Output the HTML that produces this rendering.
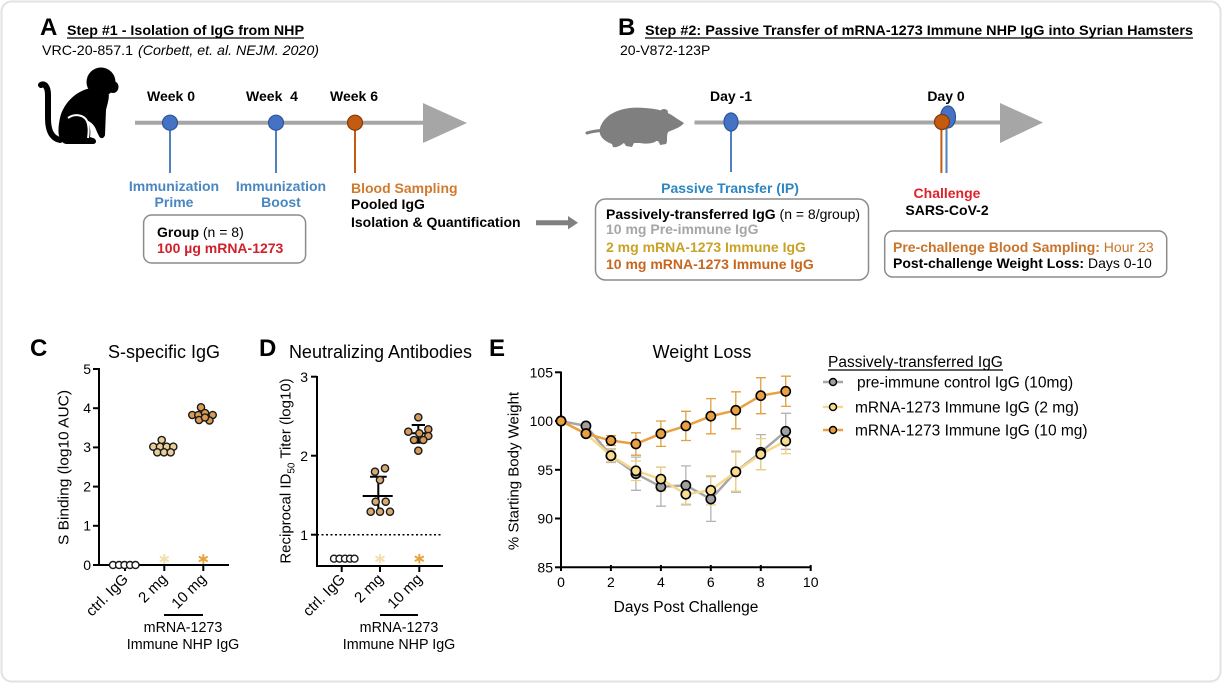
<!DOCTYPE html>
<html><head><meta charset="utf-8">
<style>
html,body{margin:0;padding:0;background:#fff;}
svg{display:block;}
text{font-family:"Liberation Sans",Arial,sans-serif;}
</style></head>
<body>
<svg width="1223" height="684" viewBox="0 0 1223 684" xmlns="http://www.w3.org/2000/svg">
<rect x="0" y="0" width="1223" height="684" fill="#fff"/>
<rect x="1.5" y="1.5" width="1219" height="680" rx="10" fill="none" stroke="#e2e2e2" stroke-width="2"/>

<!-- ============ PANEL A ============ -->
<text x="40" y="35" font-size="24" font-weight="bold">A</text>
<text x="67" y="35" font-size="14" font-weight="bold" textLength="237" lengthAdjust="spacingAndGlyphs">Step #1 - Isolation of IgG from NHP</text>
<line x1="67" y1="38" x2="304" y2="38" stroke="#000" stroke-width="1.2"/>
<text x="42" y="55" font-size="14" textLength="91" lengthAdjust="spacingAndGlyphs">VRC-20-857.1</text>
<text x="138" y="55" font-size="14" font-style="italic" textLength="181" lengthAdjust="spacingAndGlyphs">(Corbett, et. al. NEJM. 2020)</text>

<!-- monkey -->
<g fill="#000">
<circle cx="101" cy="82" r="14.5"/>
<ellipse cx="113" cy="87" rx="5.5" ry="6"/>
<path d="M92 88 C76 90 63 104 60 118 C57 132 58 142 66 144 L93 144 C97 144 97 139 93 138 L90 137 C91 131 90 124 86 120 C92 122 95 126 97 132 L99 136 C100 139 104 139 105 135 L106 110 C108 102 110 96 108 92 Z"/>
</g>
<path d="M60 140 C51 138 48 130 48 118 L48 95 C48 86 44 83 41 85" fill="none" stroke="#000" stroke-width="6" stroke-linecap="round"/>
<path d="M68 118 C75 113 84 115 87 121 C89 126 89 132 88 138" fill="none" stroke="#fff" stroke-width="2"/>

<!-- timeline A -->
<line x1="135" y1="122.7" x2="426" y2="122.7" stroke="#a6a6a6" stroke-width="4"/>
<polygon points="423,103 467,123 423,143" fill="#a6a6a6"/>
<line x1="170" y1="128" x2="170" y2="173" stroke="#4f81bd" stroke-width="2"/>
<line x1="276" y1="128" x2="276" y2="173" stroke="#4f81bd" stroke-width="2"/>
<line x1="355" y1="128" x2="355" y2="173" stroke="#c55a11" stroke-width="2"/>
<circle cx="170" cy="122.7" r="7.5" fill="#4472c4" stroke="#2f5597" stroke-width="1.2"/>
<circle cx="276" cy="122.7" r="7.5" fill="#4472c4" stroke="#2f5597" stroke-width="1.2"/>
<circle cx="355" cy="122.7" r="7.5" fill="#c55a11" stroke="#7f3a0c" stroke-width="1.2"/>
<g font-size="14" font-weight="bold" text-anchor="middle">
<text x="171" y="101">Week 0</text>
<text x="272" y="101" xml:space="preserve">Week  4</text>
<text x="354" y="101">Week 6</text>
</g>
<g font-size="14" font-weight="bold" text-anchor="middle" fill="#4a86c0">
<text x="174" y="191">Immunization</text>
<text x="174" y="207">Prime</text>
<text x="281" y="191">Immunization</text>
<text x="281" y="207">Boost</text>
</g>
<g font-size="14" font-weight="bold">
<text x="351" y="193" fill="#d07a2e">Blood Sampling</text>
<text x="351" y="209">Pooled IgG</text>
<text x="351" y="227">Isolation &amp; Quantification</text>
</g>
<rect x="143.6" y="215" width="162" height="48" rx="8" fill="none" stroke="#8c8c8c" stroke-width="1.5"/>
<text x="157" y="237" font-size="14"><tspan font-weight="bold">Group</tspan> (n = 8)</text>
<text x="157" y="253" font-size="14" font-weight="bold" fill="#d0202a">100 µg mRNA-1273</text>

<!-- connecting arrow -->
<line x1="536" y1="222.7" x2="570" y2="222.7" stroke="#808080" stroke-width="5"/>
<polygon points="568,216 578,222.7 568,229.4" fill="#808080"/>

<!-- ============ PANEL B ============ -->
<text x="618" y="35" font-size="24" font-weight="bold">B</text>
<text x="645" y="35" font-size="14" font-weight="bold" textLength="548" lengthAdjust="spacingAndGlyphs">Step #2: Passive Transfer of mRNA-1273 Immune NHP IgG into Syrian Hamsters</text>
<line x1="645" y1="38" x2="1193" y2="38" stroke="#000" stroke-width="1.2"/>
<text x="620" y="55" font-size="14">20-V872-123P</text>

<!-- hamster -->
<g fill="#7f7f7f">
<path d="M600 128 C605 112 625 106 645 108 C660 109 668 112 676 118 L684 123 C680 128 672 130 668 132 C666 137 668 141 666 144 L660 145 C659 141 657 140 655 142 C650 144 645 144 640 143 L634 143 L632 147 L626 146 L624 143 C621 145 617 148 613 147 L612 144 C604 141 598 136 600 128 Z"/>
<ellipse cx="664" cy="112" rx="4" ry="3"/>
</g>
<path d="M587 133 C594 131 600 130 606 131" fill="none" stroke="#7f7f7f" stroke-width="3" stroke-linecap="round"/>

<!-- timeline B -->
<line x1="694.5" y1="122.5" x2="1003" y2="122.5" stroke="#a6a6a6" stroke-width="4"/>
<polygon points="1000,103 1043,122.5 1000,143" fill="#a6a6a6"/>
<line x1="731" y1="128" x2="731" y2="172" stroke="#4f81bd" stroke-width="2"/>
<ellipse cx="731" cy="122" rx="7" ry="9" fill="#4472c4" stroke="#2f5597" stroke-width="1.2"/>
<line x1="946.5" y1="126" x2="946.5" y2="173" stroke="#4f81bd" stroke-width="2"/>
<line x1="941.4" y1="126" x2="941.4" y2="173" stroke="#c55a11" stroke-width="2"/>
<ellipse cx="948" cy="117" rx="7.5" ry="11" fill="#4472c4" stroke="#2f5597" stroke-width="1.2"/>
<circle cx="942" cy="122" r="7.5" fill="#c55a11" stroke="#7f3a0c" stroke-width="1.2"/>
<g font-size="14" font-weight="bold" text-anchor="middle">
<text x="731" y="101">Day -1</text>
<text x="946" y="101">Day 0</text>
<text x="730" y="193" fill="#2e86c1">Passive Transfer (IP)</text>
<text x="947" y="198" fill="#e0202a">Challenge</text>
<text x="947" y="215">SARS-CoV-2</text>
</g>
<rect x="595.5" y="199" width="273" height="81" rx="10" fill="none" stroke="#8c8c8c" stroke-width="1.5"/>
<g font-size="14">
<text x="606" y="219"><tspan font-weight="bold">Passively-transferred IgG</tspan> (n = 8/group)</text>
<text x="606" y="234" font-weight="bold" fill="#a6a6a6">10 mg Pre-immune IgG</text>
<text x="606" y="252" font-weight="bold" fill="#c9a227">2 mg mRNA-1273 Immune IgG</text>
<text x="606" y="269" font-weight="bold" fill="#c8661e">10 mg mRNA-1273 Immune IgG</text>
</g>
<rect x="884.7" y="231" width="282" height="46" rx="8" fill="none" stroke="#8c8c8c" stroke-width="1.5"/>
<g font-size="14">
<text x="893" y="252" fill="#c8742a"><tspan font-weight="bold">Pre-challenge Blood Sampling:</tspan> Hour 23</text>
<text x="893" y="268"><tspan font-weight="bold">Post-challenge Weight Loss:</tspan> Days 0-10</text>
</g>

<!-- ============ PANEL C ============ -->
<text x="30" y="356" font-size="24" font-weight="bold">C</text>
<text x="164" y="358" font-size="18" text-anchor="middle">S-specific IgG</text>
<text transform="translate(68.5,467.5) rotate(-90)" font-size="15" text-anchor="middle" textLength="155" lengthAdjust="spacingAndGlyphs">S Binding (log10 AUC)</text>
<g stroke="#000" stroke-width="2">
<line x1="99" y1="368" x2="99" y2="566"/>
<line x1="98" y1="565" x2="229" y2="565"/>
<line x1="93" y1="369" x2="99" y2="369"/>
<line x1="93" y1="408.2" x2="99" y2="408.2"/>
<line x1="93" y1="447.4" x2="99" y2="447.4"/>
<line x1="93" y1="486.6" x2="99" y2="486.6"/>
<line x1="93" y1="525.8" x2="99" y2="525.8"/>
<line x1="93" y1="565" x2="99" y2="565"/>
<line x1="125" y1="565" x2="125" y2="571"/>
<line x1="164.3" y1="565" x2="164.3" y2="571"/>
<line x1="203.3" y1="565" x2="203.3" y2="571"/>
</g>
<g font-size="14" text-anchor="end">
<text x="91" y="374">5</text>
<text x="91" y="413">4</text>
<text x="91" y="452">3</text>
<text x="91" y="491.5">2</text>
<text x="91" y="530.5">1</text>
<text x="91" y="570">0</text>
</g>
<g font-size="15" text-anchor="end">
<text transform="translate(129,580) rotate(-45)">ctrl. IgG</text>
<text transform="translate(168,580) rotate(-45)">2 mg</text>
<text transform="translate(207,580) rotate(-45)">10 mg</text>
</g>
<line x1="164" y1="615" x2="203" y2="615" stroke="#000" stroke-width="2"/>
<g font-size="14.3" text-anchor="middle">
<text x="183" y="632">mRNA-1273</text>
<text x="183" y="649">Immune NHP IgG</text>
</g>
<!-- C data -->
<g stroke="#1a1a1a" stroke-width="1.4">
<g fill="#fff">
<circle cx="113" cy="565" r="3.5"/><circle cx="119" cy="565" r="3.5"/><circle cx="124.5" cy="565" r="3.5"/><circle cx="130" cy="565" r="3.5"/><circle cx="135.5" cy="565" r="3.5"/>
</g>
<g fill="#e8cf9a">
<circle cx="161.7" cy="440" r="3.6"/>
<circle cx="153.3" cy="446.7" r="3.6"/><circle cx="160" cy="446.7" r="3.6"/><circle cx="166.7" cy="446.7" r="3.6"/><circle cx="173.3" cy="446.7" r="3.6"/>
<circle cx="157.3" cy="452.3" r="3.6"/><circle cx="164" cy="452.3" r="3.6"/><circle cx="170.7" cy="452.3" r="3.6"/>
</g>
<g fill="#d99a55">
<circle cx="201" cy="407.3" r="3.6"/>
<circle cx="192.3" cy="415" r="3.6"/><circle cx="198.3" cy="415" r="3.6"/><circle cx="205" cy="413" r="3.6"/><circle cx="212.7" cy="415" r="3.6"/>
<circle cx="199" cy="420" r="3.6"/><circle cx="209.5" cy="420.5" r="3.6"/><circle cx="205" cy="417.5" r="3.6"/>
</g>
</g>
<g stroke-width="2" stroke-linecap="round">
<g stroke="#f3dfb0"><line x1="164.3" y1="555" x2="164.3" y2="563"/><line x1="160.5" y1="557" x2="168" y2="561"/><line x1="160.5" y1="561" x2="168" y2="557"/></g>
<g stroke="#e8a43c"><line x1="203.3" y1="555" x2="203.3" y2="563"/><line x1="199.5" y1="557" x2="207" y2="561"/><line x1="199.5" y1="561" x2="207" y2="557"/></g>
</g>

<!-- ============ PANEL D ============ -->
<text x="259" y="356" font-size="24" font-weight="bold">D</text>
<text x="380.5" y="358" font-size="18" text-anchor="middle">Neutralizing Antibodies</text>
<text transform="translate(290.5,471) rotate(-90)" font-size="15" text-anchor="middle">Reciprocal ID<tspan font-size="10" dy="4">50</tspan><tspan dy="-4"> Titer (log10)</tspan></text>
<line x1="317" y1="534.7" x2="443" y2="534.7" stroke="#000" stroke-width="1.5" stroke-dasharray="2,2.5"/>
<g stroke="#000" stroke-width="2">
<line x1="317" y1="376" x2="317" y2="567"/>
<line x1="316" y1="566" x2="443" y2="566"/>
<line x1="311" y1="376.7" x2="317" y2="376.7"/>
<line x1="311" y1="455.7" x2="317" y2="455.7"/>
<line x1="311" y1="534.7" x2="317" y2="534.7"/>
<line x1="341.7" y1="566" x2="341.7" y2="572"/>
<line x1="380" y1="566" x2="380" y2="572"/>
<line x1="419.3" y1="566" x2="419.3" y2="572"/>
</g>
<g font-size="14" text-anchor="end">
<text x="308" y="382">3</text>
<text x="308" y="461">2</text>
<text x="308" y="540">1</text>
</g>
<g font-size="15" text-anchor="end">
<text transform="translate(346,580) rotate(-45)">ctrl. IgG</text>
<text transform="translate(384,580) rotate(-45)">2 mg</text>
<text transform="translate(423,580) rotate(-45)">10 mg</text>
</g>
<line x1="380" y1="615" x2="418" y2="615" stroke="#000" stroke-width="2"/>
<g font-size="14.3" text-anchor="middle">
<text x="399" y="632">mRNA-1273</text>
<text x="399" y="649">Immune NHP IgG</text>
</g>
<!-- D error bars -->
<g stroke="#000" stroke-width="2">
<line x1="378.3" y1="476.7" x2="378.3" y2="511"/>
<line x1="370" y1="476.7" x2="386.7" y2="476.7"/>
<line x1="362.7" y1="496" x2="392.7" y2="496"/>
<line x1="418.3" y1="425" x2="418.3" y2="442.7"/>
<line x1="411.7" y1="425" x2="425" y2="425"/>
<line x1="411.7" y1="442.7" x2="425" y2="442.7"/>
<line x1="406.7" y1="433.3" x2="430" y2="433.3"/>
</g>
<g stroke="#1a1a1a" stroke-width="1.4">
<g fill="#fff">
<circle cx="334" cy="558.7" r="3.5"/><circle cx="339.5" cy="558.7" r="3.5"/><circle cx="345" cy="558.7" r="3.5"/><circle cx="350" cy="558.7" r="3.5"/><circle cx="354.5" cy="558.7" r="3.5"/>
</g>
<g fill="#d7aa72">
<circle cx="375" cy="471.7" r="3.6"/><circle cx="385" cy="468.3" r="3.6"/><circle cx="380" cy="480" r="3.6"/>
<circle cx="375.7" cy="501.7" r="3.6"/><circle cx="385.7" cy="501.7" r="3.6"/>
<circle cx="370.7" cy="511.7" r="3.6"/><circle cx="380" cy="511.7" r="3.6"/><circle cx="390" cy="511.7" r="3.6"/>
</g>
<g fill="#d59a5a">
<circle cx="418.3" cy="417.3" r="3.6"/><circle cx="408.3" cy="431.7" r="3.6"/><circle cx="419.3" cy="433.3" r="3.6"/>
<circle cx="428.3" cy="429.3" r="3.6"/><circle cx="428.3" cy="436" r="3.6"/><circle cx="414" cy="440" r="3.6"/>
<circle cx="423.3" cy="440" r="3.6"/><circle cx="418.3" cy="450.7" r="3.6"/>
</g>
</g>
<g stroke-width="2" stroke-linecap="round">
<g stroke="#f3dfb0"><line x1="380" y1="554.7" x2="380" y2="562.7"/><line x1="376.2" y1="556.7" x2="383.8" y2="560.7"/><line x1="376.2" y1="560.7" x2="383.8" y2="556.7"/></g>
<g stroke="#e8a43c"><line x1="419.3" y1="554.7" x2="419.3" y2="562.7"/><line x1="415.5" y1="556.7" x2="423.1" y2="560.7"/><line x1="415.5" y1="560.7" x2="423.1" y2="556.7"/></g>
</g>

<!-- ============ PANEL E ============ -->
<text x="489" y="356" font-size="24" font-weight="bold">E</text>
<text x="702" y="358" font-size="18" text-anchor="middle">Weight Loss</text>
<text transform="translate(518.5,471) rotate(-90)" font-size="15" text-anchor="middle">% Starting Body Weight</text>
<text x="686" y="612" font-size="15.5" text-anchor="middle">Days Post Challenge</text>
<g stroke="#000" stroke-width="2">
<line x1="561" y1="371.5" x2="561" y2="568"/>
<line x1="560" y1="567.3" x2="811" y2="567.3"/>
<line x1="555" y1="372.3" x2="561" y2="372.3"/>
<line x1="555" y1="421" x2="561" y2="421"/>
<line x1="555" y1="469.8" x2="561" y2="469.8"/>
<line x1="555" y1="518.5" x2="561" y2="518.5"/>
<line x1="555" y1="567.3" x2="561" y2="567.3"/>
<line x1="561" y1="567" x2="561" y2="571"/>
<line x1="610.9" y1="565" x2="610.9" y2="571"/>
<line x1="660.9" y1="565" x2="660.9" y2="571"/>
<line x1="710.8" y1="565" x2="710.8" y2="571"/>
<line x1="760.8" y1="565" x2="760.8" y2="571"/>
<line x1="810.7" y1="565" x2="810.7" y2="571"/>
</g>
<g font-size="14" text-anchor="end">
<text x="553" y="377.3">105</text>
<text x="553" y="426">100</text>
<text x="553" y="474.8">95</text>
<text x="553" y="523.5">90</text>
<text x="553" y="572.3">85</text>
</g>
<g font-size="14" text-anchor="middle">
<text x="561" y="587">0</text>
<text x="610.9" y="587">2</text>
<text x="660.9" y="587">4</text>
<text x="710.8" y="587">6</text>
<text x="760.8" y="587">8</text>
<text x="810.7" y="587">10</text>
</g>

<!-- error bars -->
<g stroke="#b3b3b3" stroke-width="1.3">
<path d="M610.94 448.9V462.5M606 448.9H616M606 462.5H616
M635.91 457.1V490.3M631 457.1H641M631 490.3H641
M660.88 467.2V506.2M656 467.2H666M656 506.2H666
M685.85 465.9V504.9M681 465.9H691M681 504.9H691
M710.82 476.6V521.4M706 476.6H716M706 521.4H716
M735.79 451.2V492.2M731 451.2H741M731 492.2H741
M760.76 434.6V469.8M756 434.6H766M756 469.8H766
M785.73 413.3V449.3M781 413.3H791M781 449.3H791"/>
</g>
<g stroke="#f0d080" stroke-width="1.3">
<path d="M610.94 449.8V461.6M606 449.8H616M606 461.6H616
M635.91 461V480.5M631 461H641M631 480.5H641
M660.88 467.4V490.8M656 467.4H666M656 490.8H666
M685.85 484.4V504M681 484.4H691M681 504H691
M710.82 475.7V504.9M706 475.7H716M706 504.9H716
M735.79 452.2V491.2M731 452.2H741M731 491.2H741
M760.76 438.6V469.8M756 438.6H766M756 469.8H766
M785.73 428.3V453.7M781 428.3H791M781 453.7H791"/>
</g>
<g stroke="#e0a040" stroke-width="1.3">
<path d="M610.94 435.6V445.5M606 435.6H616M606 445.5H616
M635.91 432.8V455.2M631 432.8H641M631 455.2H641
M660.88 421V446.4M656 421H666M656 446.4H666
M685.85 411.3V440.5M681 411.3H691M681 440.5H691
M710.82 398.6V433.8M706 398.6H716M706 433.8H716
M735.79 391.8V428.8M731 391.8H741M731 428.8H741
M760.76 377.7V413.7M756 377.7H766M756 413.7H766
M785.73 376.2V406.4M781 376.2H791M781 406.4H791"/>
</g>

<!-- series lines -->
<polyline fill="none" stroke="#a6a6a6" stroke-width="2.5" stroke-linejoin="round" points="561,421.05 585.97,425.9 610.94,455.7 635.91,473.7 660.88,486.7 685.85,485.4 710.82,499.05 735.79,471.75 760.76,452.25 785.73,431.3"/>
<polyline fill="none" stroke="#f5d88a" stroke-width="2.5" stroke-linejoin="round" points="561,421.05 585.97,433.7 610.94,455.7 635.91,470.8 660.88,479.1 685.85,494.2 710.82,490.3 735.79,471.75 760.76,454.2 785.73,441"/>
<polyline fill="none" stroke="#eaa040" stroke-width="2.5" stroke-linejoin="round" points="561,421.05 585.97,433.7 610.94,440.55 635.91,443.96 660.88,433.7 685.85,425.9 710.82,416.2 735.79,410.3 760.76,395.7 785.73,391.3"/>

<!-- markers -->
<g stroke="#000" stroke-width="1.6">
<g fill="#a0a0a0">
<circle cx="561" cy="421.05" r="4.6"/><circle cx="585.97" cy="425.9" r="4.6"/><circle cx="610.94" cy="455.7" r="4.6"/><circle cx="635.91" cy="473.7" r="4.6"/><circle cx="660.88" cy="486.7" r="4.6"/><circle cx="685.85" cy="485.4" r="4.6"/><circle cx="710.82" cy="499.05" r="4.6"/><circle cx="735.79" cy="471.75" r="4.6"/><circle cx="760.76" cy="452.25" r="4.6"/><circle cx="785.73" cy="431.3" r="4.6"/>
</g>
<g fill="#f7dc8f">
<circle cx="561" cy="421.05" r="4.6"/><circle cx="585.97" cy="433.7" r="4.6"/><circle cx="610.94" cy="455.7" r="4.6"/><circle cx="635.91" cy="470.8" r="4.6"/><circle cx="660.88" cy="479.1" r="4.6"/><circle cx="685.85" cy="494.2" r="4.6"/><circle cx="710.82" cy="490.3" r="4.6"/><circle cx="735.79" cy="471.75" r="4.6"/><circle cx="760.76" cy="454.2" r="4.6"/><circle cx="785.73" cy="441" r="4.6"/>
</g>
<g fill="#e9a042">
<circle cx="561" cy="421.05" r="4.6"/><circle cx="585.97" cy="433.7" r="4.6"/><circle cx="610.94" cy="440.55" r="4.6"/><circle cx="635.91" cy="443.96" r="4.6"/><circle cx="660.88" cy="433.7" r="4.6"/><circle cx="685.85" cy="425.9" r="4.6"/><circle cx="710.82" cy="416.2" r="4.6"/><circle cx="735.79" cy="410.3" r="4.6"/><circle cx="760.76" cy="395.7" r="4.6"/><circle cx="785.73" cy="391.3" r="4.6"/>
</g>
</g>

<!-- legend -->
<text x="828" y="367" font-size="15.5">Passively-transferred IgG</text>
<line x1="828" y1="370" x2="1003" y2="370" stroke="#000" stroke-width="1.2"/>
<line x1="823" y1="382" x2="843" y2="382" stroke="#a6a6a6" stroke-width="2.5"/>
<circle cx="833" cy="382" r="3.5" fill="#a0a0a0" stroke="#000" stroke-width="1.4"/>
<line x1="823" y1="407" x2="843" y2="407" stroke="#f5d88a" stroke-width="2.5"/>
<circle cx="833" cy="407" r="3.5" fill="#f7dc8f" stroke="#000" stroke-width="1.4"/>
<line x1="823" y1="430" x2="843" y2="430" stroke="#eaa040" stroke-width="2.5"/>
<circle cx="833" cy="430" r="3.5" fill="#e9a042" stroke="#000" stroke-width="1.4"/>
<g font-size="15.5">
<text x="857" y="387.5">pre-immune control IgG (10mg)</text>
<text x="855" y="412.5">mRNA-1273 Immune IgG (2 mg)</text>
<text x="855" y="435.5">mRNA-1273 Immune IgG (10 mg)</text>
</g>
</svg>
</body></html>
